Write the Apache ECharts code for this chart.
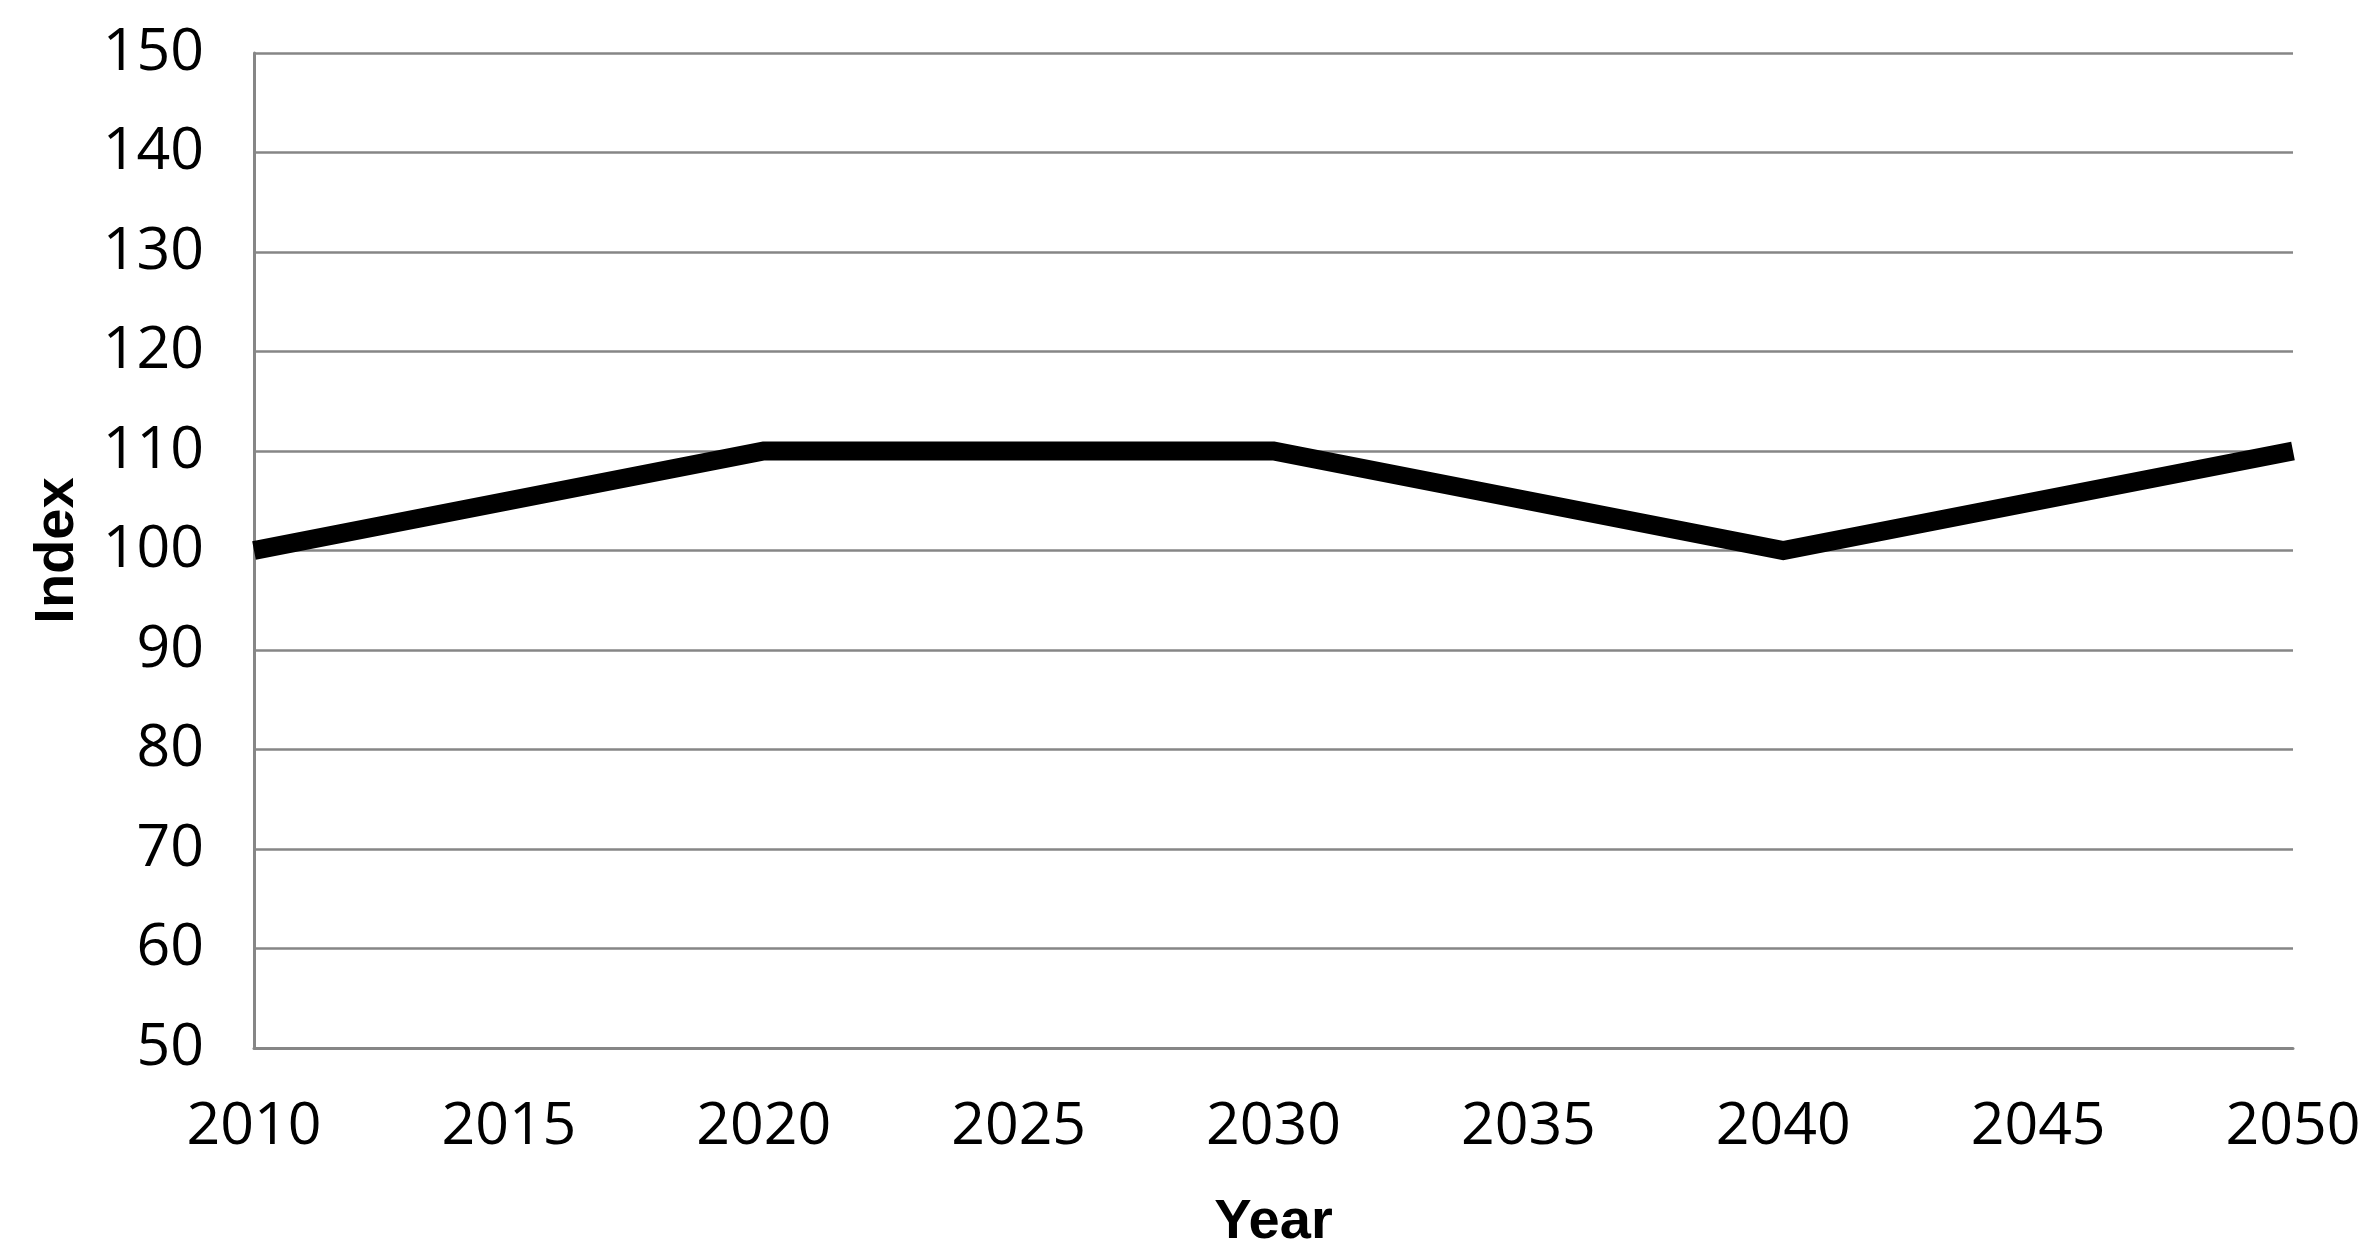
<!DOCTYPE html>
<html>
<head>
	<meta charset="utf-8">
	<title>Index by year</title>
	<script src="https://cdn.jsdelivr.net/npm/echarts@6/dist/echarts.min.js"></script>
	<style>
		html, body { margin: 0; padding: 0; background: #fff; }
	</style>
</head>
<body>
    <div id="main" style="width: 2371px;height:1255px;"></div>
    <script type="text/javascript">
		// data
		var years = ['2010', '2015', '2020', '2025', '2030', '2035', '2040', '2045', '2050'];
		var indexValues = [100, 105, 110, 110, 110, 105, 100, 105, 110];
		var yMin = 50, yMax = 150, yStep = 10;

        var myChart = echarts.init(document.getElementById('main'));

        var option = {
            animation: false,
            grid: {
                left: 254,
                right: 78,
                top: 53,
                bottom: 207,
                outerBoundsMode: 'none'
            },
            xAxis: {
                type: 'category',
                data: years,
                boundaryGap: false,
                name: 'Year',
                nameLocation: 'middle',
                nameGap: 147,
                nameTextStyle: {
                    fontFamily: 'Liberation Sans',
                    fontWeight: 'bold',
                    fontSize: 56,
                    color: '#000'
                },
                axisLine: { lineStyle: { color: '#868686', width: 3 } },
                axisTick: { show: false },
                axisLabel: {
                    margin: 50,
                    fontFamily: 'Open Sans',
                    fontSize: 59,
                    color: '#000'
                }
            },
            yAxis: {
                type: 'value',
                min: yMin,
                max: yMax,
                interval: yStep,
                name: 'Index',
                nameLocation: 'middle',
                nameGap: 168,
                nameRotate: 90,
                nameTextStyle: {
                    fontFamily: 'Liberation Sans',
                    fontWeight: 'bold',
                    fontSize: 56,
                    color: '#000'
                },
                axisLine: { show: true, lineStyle: { color: '#868686', width: 3 } },
                axisTick: { show: false },
                axisLabel: {
                    margin: 50,
                    fontFamily: 'Open Sans',
                    fontSize: 59,
                    color: '#000'
                },
                splitLine: { lineStyle: { color: '#868686', width: 2.5 } }
            },
            series: [{
                name: 'Index',
                type: 'line',
                data: indexValues,
                showSymbol: false,
                lineStyle: { color: '#000', width: 19, join: 'miter' }
            }]
        };

        myChart.setOption(option);
    </script>
</body>
</html>
